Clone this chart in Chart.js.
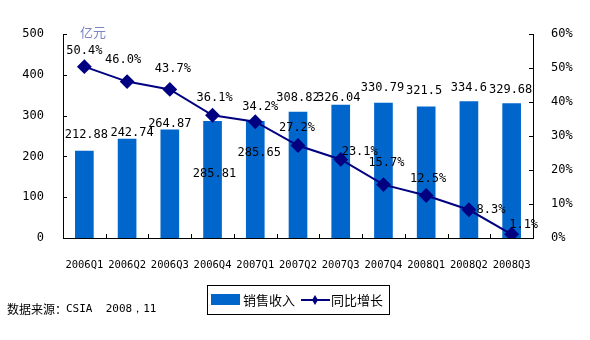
<!DOCTYPE html>
<html>
<head>
<meta charset="utf-8">
<script src="https://cdn.jsdelivr.net/npm/chart.js@4"></script>
<style>
  body { margin: 0; background: #fff; }
  #wrap { width: 590px; height: 340px; }
</style>
</head>
<body>
<div id="wrap"><canvas id="chart" width="590" height="340"></canvas></div>
<script>
const quarters = ['2006Q1', '2006Q2', '2006Q3', '2006Q4', '2007Q1', '2007Q2', '2007Q3', '2007Q4', '2008Q1', '2008Q2', '2008Q3']
const revenue = [212.88, 242.74, 264.87, 285.81, 285.65, 308.82, 326.04, 330.79, 321.5, 334.6, 329.68]
const growth = [50.4, 46.0, 43.7, 36.1, 34.2, 27.2, 23.1, 15.7, 12.5, 8.3, 1.1]
const revenueTicks = [0, 100, 200, 300, 400, 500]
const growthTicks = [0, 10, 20, 30, 40, 50, 60]

// label nudges in px (style only), relative to the top of each mark
const barLabelShift = [[2, -16], [5, -6], [0, -6], [2, 52], [4, 31], [0, -14], [-2, -7], [-1, -15], [-2, -16], [0, -14], [-1, -14]]
const lineLabelShift = [[0, -16], [-4, -22], [3, -21], [2, -17], [5, -15], [-1, -18], [19, -8], [3, -22], [2, -17], [22, 0], [12, -9]]

const mono = '"DejaVu Sans Mono", "Liberation Mono", monospace'
const cjk = '"Noto Sans CJK SC", "DejaVu Sans", sans-serif'
const navy = '#000080'
const blue = '#0066cc'

const extras = {
  id: 'extras',
  afterDatasetsDraw (chart) {
    const { ctx, chartArea } = chart
    const x = chart.scales.x
    const y = chart.scales.y
    const y1 = chart.scales.y1
    ctx.save()
    ctx.strokeStyle = '#000'
    ctx.lineWidth = 1
    // inward tick marks
    ctx.beginPath()
    revenueTicks.forEach(v => {
      const py = Math.round(y.getPixelForValue(v)) + 0.5
      ctx.moveTo(chartArea.left, py); ctx.lineTo(chartArea.left + 4, py)
    })
    growthTicks.forEach(v => {
      const py = Math.round(y1.getPixelForValue(v)) + 0.5
      ctx.moveTo(chartArea.right, py); ctx.lineTo(chartArea.right - 4, py)
    })
    for (let i = 1; i < quarters.length; i++) {
      const px = Math.round((x.getPixelForValue(i - 1) + x.getPixelForValue(i)) / 2) + 0.5
      ctx.moveTo(px, chartArea.bottom); ctx.lineTo(px, chartArea.bottom - 4)
    }
    ctx.stroke()

    // value labels
    ctx.font = '12px ' + mono
    ctx.fillStyle = '#000'
    ctx.textAlign = 'center'
    ctx.textBaseline = 'middle'
    chart.getDatasetMeta(0).data.forEach((bar, i) => {
      const [dx, dy] = barLabelShift[i]
      ctx.fillText(String(revenue[i]), bar.x + dx, bar.y + dy)
    })
    chart.getDatasetMeta(1).data.forEach((pt, i) => {
      const [dx, dy] = lineLabelShift[i]
      ctx.fillText(growth[i].toFixed(1) + '%', pt.x + dx, pt.y + dy)
    })

    // unit
    ctx.font = '13px ' + cjk
    ctx.fillStyle = '#7b86c4'
    ctx.textAlign = 'left'
    ctx.fillText('亿元', 80, 32)

    // legend
    ctx.strokeStyle = '#000'
    ctx.strokeRect(207.5, 285.5, 182, 29)
    ctx.fillStyle = blue
    ctx.fillRect(211, 294, 29, 11)
    ctx.fillStyle = '#000'
    ctx.font = '13px ' + cjk
    ctx.fillText('销售收入', 243, 300)
    ctx.strokeStyle = navy
    ctx.lineWidth = 2
    ctx.beginPath(); ctx.moveTo(301, 300); ctx.lineTo(330, 300); ctx.stroke()
    ctx.fillStyle = navy
    ctx.beginPath()
    ctx.moveTo(315, 295); ctx.lineTo(318, 300); ctx.lineTo(315, 305); ctx.lineTo(312, 300)
    ctx.closePath(); ctx.fill()
    ctx.fillStyle = '#000'
    ctx.fillText('同比增长', 331, 300)

    // source
    ctx.font = '12px ' + cjk
    ctx.fillText('数据来源：', 7, 309)
    ctx.font = '11px ' + mono
    ctx.fillText('CSIA  2008，11', 66, 309)
    ctx.restore()
  }
}

document.addEventListener('DOMContentLoaded', () => {
  const canvas = document.getElementById('chart')
  new Chart(canvas, {
    data: {
      labels: quarters,
      datasets: [
        {
          type: 'bar',
          label: '销售收入',
          data: revenue,
          backgroundColor: blue,
          barThickness: 18,
          yAxisID: 'y',
          order: 2
        },
        {
          type: 'line',
          label: '同比增长',
          data: growth,
          borderColor: navy,
          backgroundColor: navy,
          borderWidth: 2,
          pointStyle: 'rectRot',
          pointRadius: 6,
          pointHoverRadius: 6,
          tension: 0,
          yAxisID: 'y1',
          order: 1
        }
      ]
    },
    options: {
      animation: false,
      responsive: false,
      events: [],
      layout: { padding: { top: 34, left: 0, right: 0, bottom: 0 } },
      plugins: { legend: { display: false }, tooltip: { enabled: false } },
      scales: {
        x: {
          afterFit: s => { s.height = 102 },
          grid: { display: false },
          border: { display: true, color: '#000' },
          ticks: { color: '#000', font: { family: mono, size: 10.5 }, padding: 13, maxRotation: 0, autoSkip: false }
        },
        y: {
          position: 'left',
          min: 0,
          max: 500,
          afterFit: s => { s.width = 63 },
          afterBuildTicks: s => { s.ticks = revenueTicks.map(v => ({ value: v })) },
          grid: { display: false },
          border: { display: true, color: '#000' },
          ticks: { color: '#000', font: { family: mono, size: 12 }, padding: 11 }
        },
        y1: {
          position: 'right',
          min: 0,
          max: 60,
          afterFit: s => { s.width = 57 },
          afterBuildTicks: s => { s.ticks = growthTicks.map(v => ({ value: v })) },
          grid: { display: false },
          border: { display: true, color: '#000' },
          ticks: { color: '#000', font: { family: mono, size: 12 }, padding: 10, callback: v => v + '%' }
        }
      }
    },
    plugins: [extras]
  })
})
</script>
</body>
</html>
